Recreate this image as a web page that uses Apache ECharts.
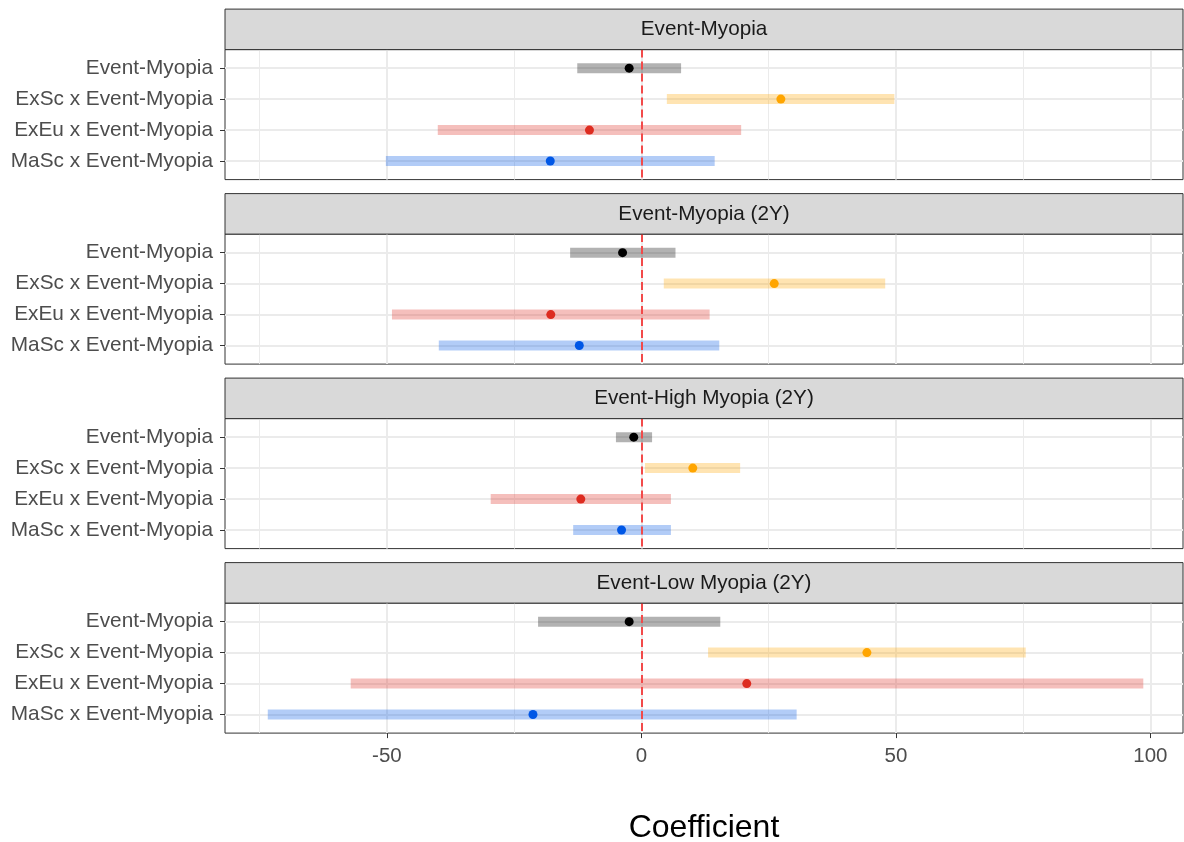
<!DOCTYPE html>
<html>
<head>
<meta charset="utf-8">
<script src="https://cdn.jsdelivr.net/npm/echarts@6/dist/echarts.min.js"></script>
<style>
  html, body { margin: 0; padding: 0; background: #fff; }
  #chart { width: 1184px; height: 842px; }
</style>
</head>
<body>
<div id="chart"></div>
<script>
// panels (facets) and terms
var outcomes = ['Event-Myopia', 'Event-Myopia (2Y)', 'Event-High Myopia (2Y)', 'Event-Low Myopia (2Y)'];
var terms = ['Event-Myopia', 'ExSc x Event-Myopia', 'ExEu x Event-Myopia', 'MaSc x Event-Myopia'];

// coefficient estimates and interval ends, one row per panel
var estimate = [
  [-2.4, 27.4, -10.2, -17.9],
  [-3.7, 26.1, -17.8, -12.2],
  [-1.5, 10.1, -11.9, -3.9],
  [-2.4, 44.3, 20.7, -21.3]
];
var lower = [
  [-12.6, 5.0, -40.0, -50.2],
  [-14.0, 4.4, -49.0, -39.8],
  [-5.0, 0.7, -29.6, -13.4],
  [-20.3, 13.1, -57.1, -73.4]
];
var upper = [
  [7.8, 49.7, 19.6, 14.4],
  [6.7, 47.9, 13.4, 15.3],
  [2.1, 19.4, 5.8, 5.8],
  [15.5, 75.5, 98.6, 30.5]
];

var majorTicks = [-50, 0, 50, 100];
var minorTicks = [-75, -25, 25, 75];
var rowTicks = [0, 1, 2, 3];
var xMin = -81.8, xMax = 106.4;

var termColors = ['#000000', '#FFA500', '#DD2C20', '#0057E6'];
var barColors = ['rgba(0,0,0,0.3)', 'rgba(255,165,0,0.3)', 'rgba(221,44,32,0.3)', 'rgba(0,87,230,0.3)'];
var font = 'Liberation Sans, Arial, sans-serif';

var panelTop = 49.6, panelH = 130, panelStep = 184.5, stripH = 40.5;
var plotLeft = 225, plotRight = 1183;

var grids = [], xAxes = [], yAxes = [], series = [], graphics = [];

outcomes.forEach(function (name, p) {
  var top = panelTop + p * panelStep;
  var last = p === outcomes.length - 1;

  grids.push({
    left: plotLeft, width: plotRight - plotLeft, top: top, height: panelH,
    outerBoundsMode: 'none', containLabel: false,
    show: true, borderColor: '#333', borderWidth: 1, backgroundColor: '#fff'
  });

  // strip on top of each panel
  graphics.push({
    type: 'rect', z: 10,
    shape: { x: plotLeft, y: top - stripH, width: plotRight - plotLeft, height: stripH },
    style: { fill: '#D9D9D9', stroke: '#333', lineWidth: 1 }
  });
  graphics.push({
    type: 'text', z: 11,
    x: (plotLeft + plotRight) / 2, y: top - stripH / 2,
    style: { text: name, fill: '#1a1a1a', font: '20.7px ' + font, align: 'center', verticalAlign: 'middle' }
  });

  // major x gridlines (+ labels on last panel)
  xAxes.push({
    type: 'value', gridIndex: p, min: xMin, max: xMax, position: 'bottom',
    axisLine: { show: false, onZero: false },
    axisTick: { show: last, customValues: majorTicks, length: 5, lineStyle: { color: '#333', width: 1 } },
    axisLabel: { show: last, customValues: majorTicks, fontSize: 20.5, color: '#4d4d4d', margin: 13, fontFamily: font },
    splitLine: { show: true, lineStyle: { color: '#EBEBEB', width: 2 } },
    name: last ? 'Coefficient' : '',
    nameLocation: 'middle', nameGap: 79,
    nameTextStyle: { fontSize: 32, color: '#000', fontFamily: font }
  });
  // minor x gridlines
  xAxes.push({
    type: 'value', gridIndex: p, min: xMin, max: xMax, position: 'top',
    axisLine: { show: false, onZero: false },
    axisTick: { show: false, customValues: minorTicks },
    axisLabel: { show: false, customValues: minorTicks },
    splitLine: { show: true, lineStyle: { color: '#EBEBEB', width: 1 } }
  });

  yAxes.push({
    type: 'value', gridIndex: p, min: -0.6, max: 3.6, inverse: true,
    axisLine: { show: false, onZero: false },
    axisTick: { show: true, customValues: rowTicks, length: 5, lineStyle: { color: '#333', width: 1 } },
    axisLabel: {
      customValues: rowTicks, fontSize: 20.8, color: '#4d4d4d', margin: 12, fontFamily: font,
      formatter: function (v) { return terms[Math.round(v)]; }
    },
    splitLine: { show: true, lineStyle: { color: '#EBEBEB', width: 2 } }
  });

  // interval bars
  series.push({
    type: 'custom', xAxisIndex: 2 * p, yAxisIndex: p, silent: true, z: 2,
    data: terms.map(function (t, i) { return [lower[p][i], upper[p][i], i]; }),
    encode: { x: [0, 1], y: 2 },
    renderItem: function (params, api) {
      var row = api.value(2);
      var a = api.coord([api.value(0), row]);
      var b = api.coord([api.value(1), row]);
      return {
        type: 'rect',
        shape: { x: a[0], y: a[1] - 5, width: b[0] - a[0], height: 10 },
        style: { fill: barColors[row] }
      };
    },
    markLine: {
      silent: true, symbol: 'none', label: { show: false },
      lineStyle: { color: '#F24A4A', type: [8, 4], width: 2 },
      data: [{ xAxis: 0 }]
    }
  });

  // point estimates
  series.push({
    type: 'scatter', xAxisIndex: 2 * p, yAxisIndex: p, z: 6, symbolSize: 9, silent: true,
    data: terms.map(function (t, i) {
      return { value: [estimate[p][i], i], itemStyle: { color: termColors[i], opacity: 1 } };
    })
  });
});

var chart = echarts.init(document.getElementById('chart'));
chart.setOption({
  animation: false,
  backgroundColor: '#fff',
  grid: grids,
  xAxis: xAxes,
  yAxis: yAxes,
  series: series,
  graphic: graphics
});
</script>
</body>
</html>
